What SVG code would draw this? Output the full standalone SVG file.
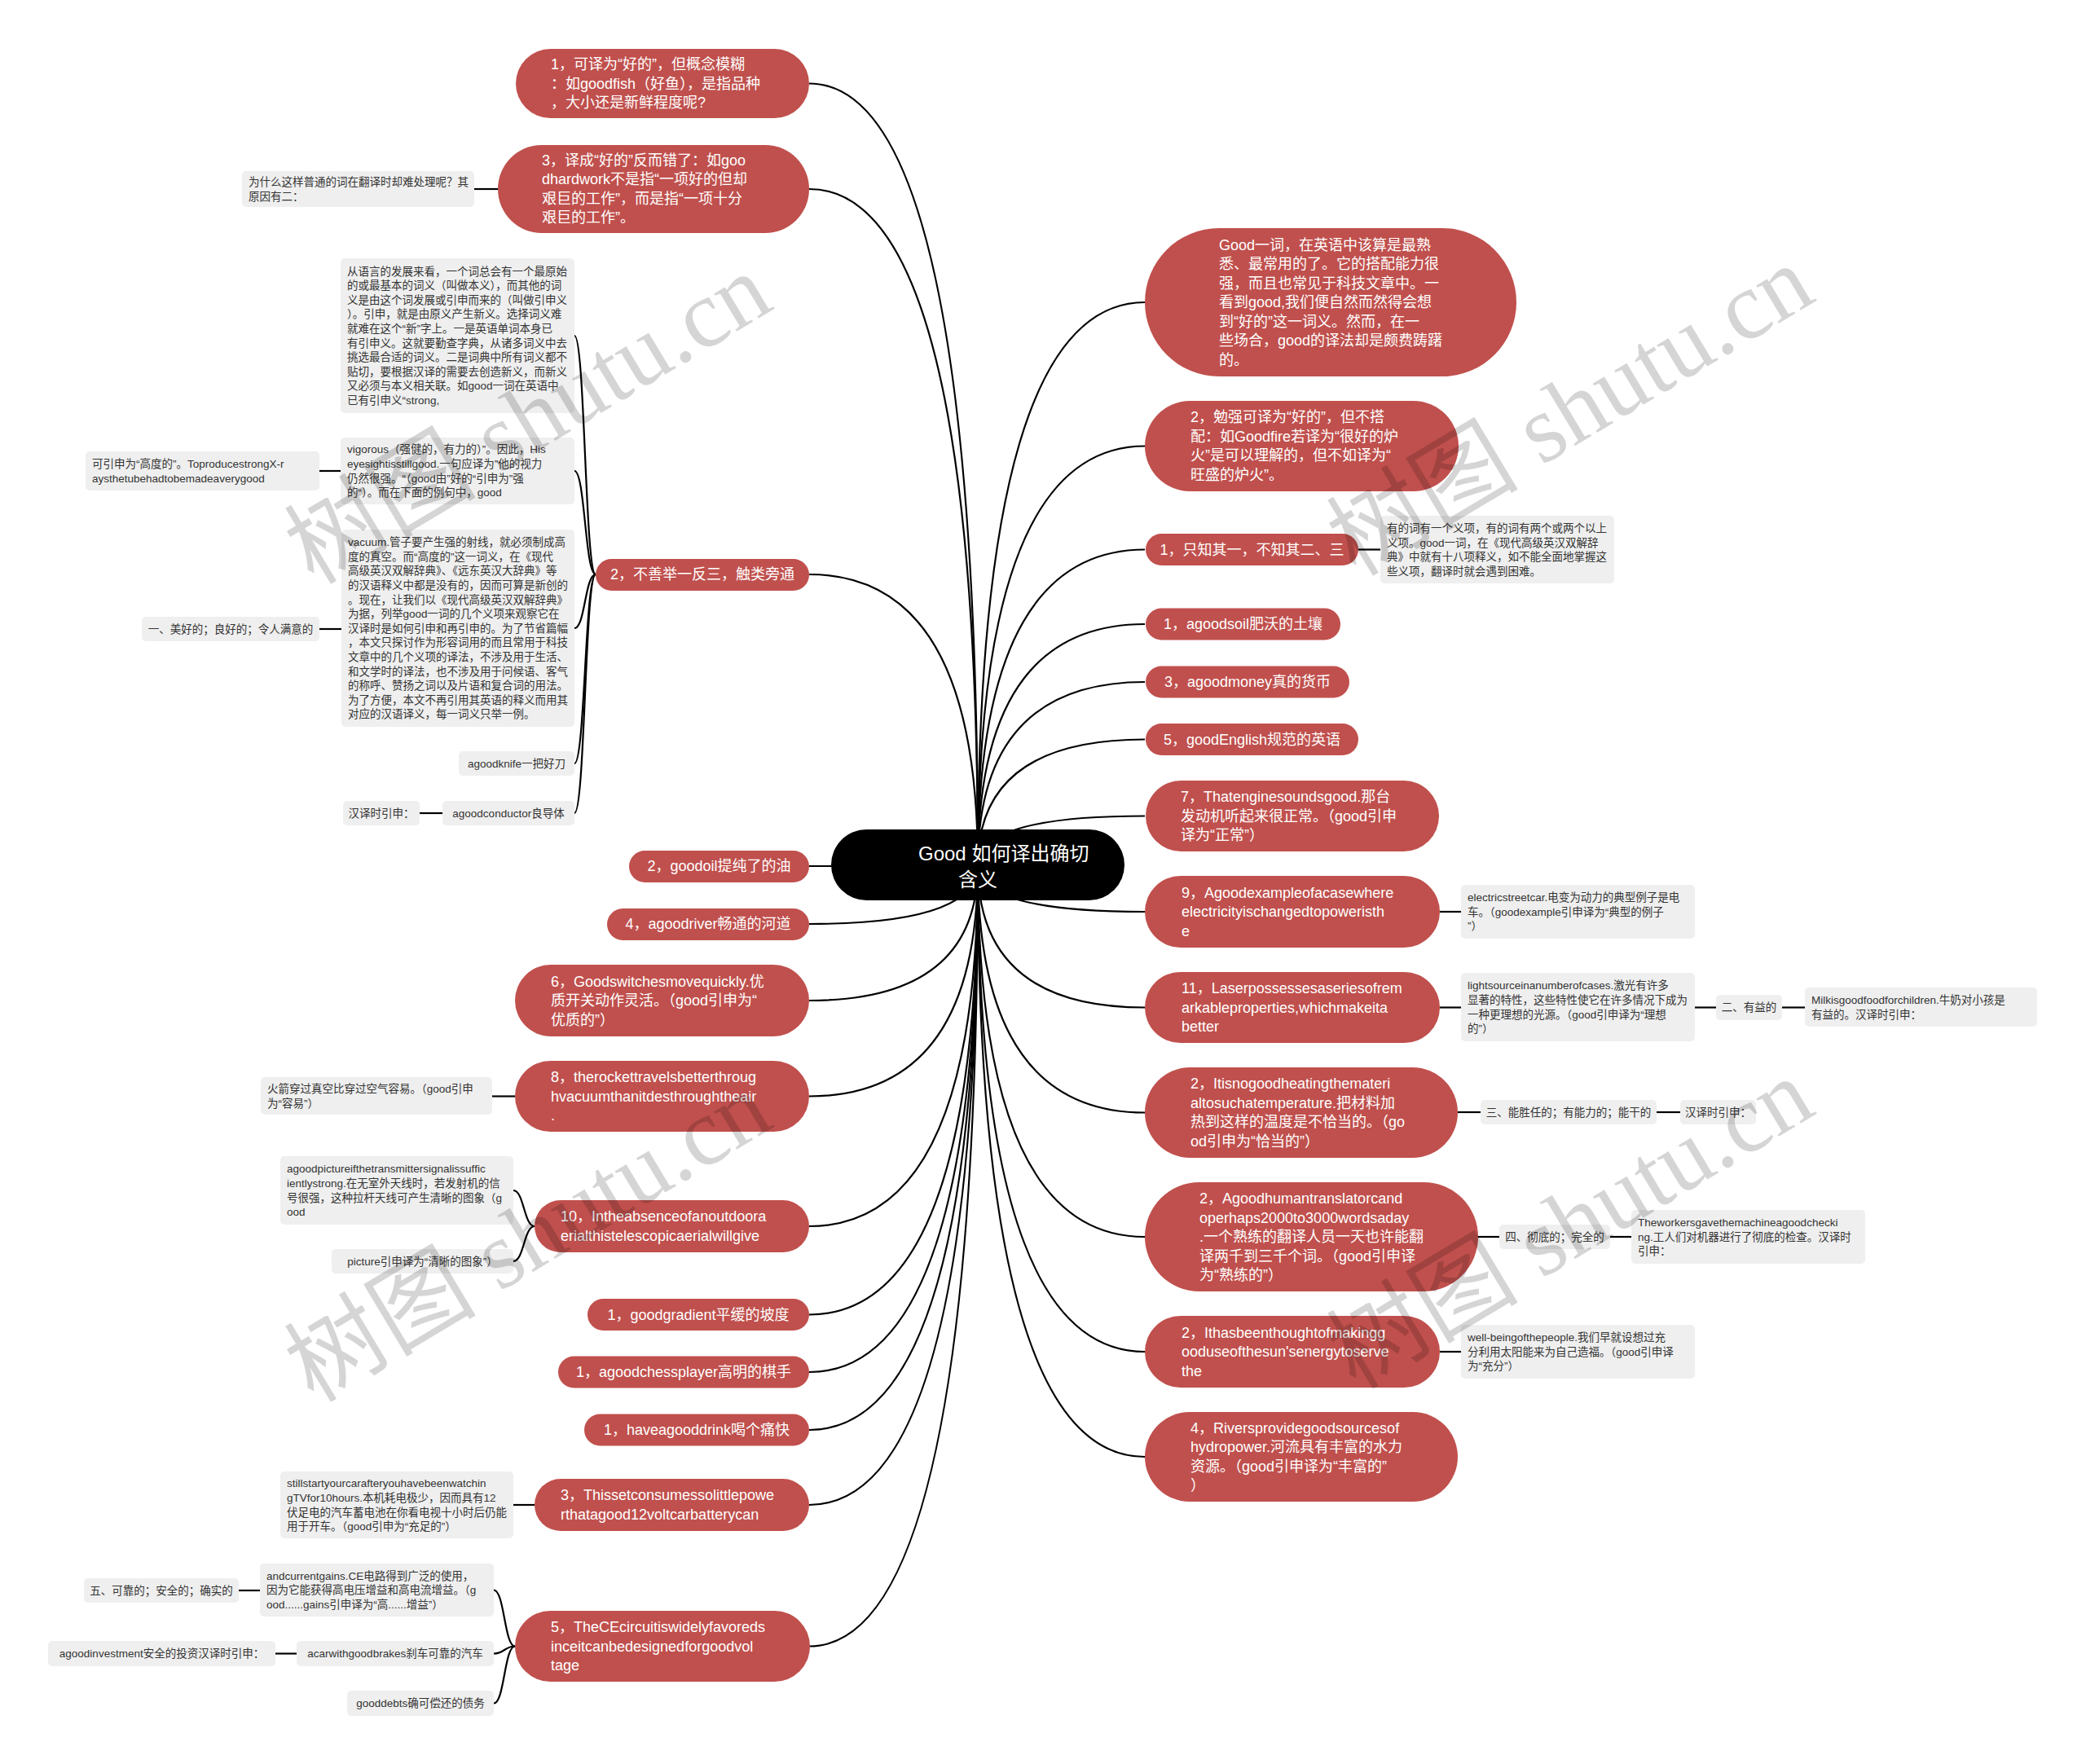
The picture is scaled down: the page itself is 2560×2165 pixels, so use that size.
<svg xmlns="http://www.w3.org/2000/svg" width="2560" height="2165" viewBox="0 0 2560 2165">
<style>
text{font-family:"Liberation Sans","Noto Sans CJK SC",sans-serif}
.rn{fill:#C0504D}
.rt{font-size:18px;fill:#fff}
.gn{fill:#EFEFEF}
.gt{font-size:13.5px;fill:#333}
.c{text-anchor:middle}
.ln{stroke:#000;stroke-width:2.2;fill:none}
.wm{font-family:"Liberation Serif","Noto Sans CJK SC",serif;font-size:118px;fill:#000;opacity:0.16;text-anchor:middle}
</style>
<rect width="2560" height="2165" fill="#fff"/>
<g id="connectors">
<path class="ln" d="M1200 1062Q1200 102.5 993 102.5"/>
<path class="ln" d="M1200 1062Q1200 232 993 232"/>
<path class="ln" d="M1200 1062Q1200 705 993 705"/>
<path class="ln" d="M1200 1062Q1200 1063 993 1063"/>
<path class="ln" d="M1200 1062Q1200 1134 993 1134"/>
<path class="ln" d="M1200 1062Q1200 1228 993 1228"/>
<path class="ln" d="M1200 1062Q1200 1345.5 993 1345.5"/>
<path class="ln" d="M1200 1062Q1200 1505 993 1505"/>
<path class="ln" d="M1200 1062Q1200 1613.5 993 1613.5"/>
<path class="ln" d="M1200 1062Q1200 1684 993 1684"/>
<path class="ln" d="M1200 1062Q1200 1755 993 1755"/>
<path class="ln" d="M1200 1062Q1200 1847 993 1847"/>
<path class="ln" d="M1200 1062Q1200 2020.5 993 2020.5"/>
<path class="ln" d="M1200 1062Q1200 371 1405 371"/>
<path class="ln" d="M1200 1062Q1200 547.5 1405 547.5"/>
<path class="ln" d="M1200 1062Q1200 674.5 1405 674.5"/>
<path class="ln" d="M1200 1062Q1200 766 1405 766"/>
<path class="ln" d="M1200 1062Q1200 837 1405 837"/>
<path class="ln" d="M1200 1062Q1200 907.5 1405 907.5"/>
<path class="ln" d="M1200 1062Q1200 1001.5 1405 1001.5"/>
<path class="ln" d="M1200 1062Q1200 1119 1405 1119"/>
<path class="ln" d="M1200 1062Q1200 1236.5 1405 1236.5"/>
<path class="ln" d="M1200 1062Q1200 1365.5 1405 1365.5"/>
<path class="ln" d="M1200 1062Q1200 1518 1405 1518"/>
<path class="ln" d="M1200 1062Q1200 1659 1405 1659"/>
<path class="ln" d="M1200 1062Q1200 1788 1405 1788"/>
<path class="ln" d="M731 705C718 705 718 412 705 412"/>
<path class="ln" d="M731 705C718 705 718 578 705 578"/>
<path class="ln" d="M731 705C718 705 718 771 705 771"/>
<path class="ln" d="M731 705C718 705 718 937 705 937"/>
<path class="ln" d="M731 705C718 705 718 998 705 998"/>
<path class="ln" d="M656 1505C643 1505 643 1461 630 1461"/>
<path class="ln" d="M656 1505C643 1505 643 1548 630 1548"/>
<path class="ln" d="M632 2020.5C619 2020.5 619 1951.5 606 1951.5"/>
<path class="ln" d="M632 2020.5C619 2020.5 619 2029.5 606 2029.5"/>
<path class="ln" d="M632 2020.5C619 2020.5 619 2090.5 606 2090.5"/>
<path class="ln" d="M582 232H611"/>
<path class="ln" d="M392 578H418"/>
<path class="ln" d="M392 772H419"/>
<path class="ln" d="M515 998H543"/>
<path class="ln" d="M604 1345.5H632"/>
<path class="ln" d="M630 1847H656"/>
<path class="ln" d="M293 1952H319"/>
<path class="ln" d="M338 2029.5H364"/>
<path class="ln" d="M1667 674.5H1694"/>
<path class="ln" d="M1767 1119H1793"/>
<path class="ln" d="M1767 1236.5H1793"/>
<path class="ln" d="M2080 1236.5H2106"/>
<path class="ln" d="M2187 1236.5H2215"/>
<path class="ln" d="M1789 1365H1817"/>
<path class="ln" d="M2033 1365H2062"/>
<path class="ln" d="M1814 1518H1840"/>
<path class="ln" d="M1976 1518H2002"/>
<path class="ln" d="M1767 1659H1793"/>
</g>
<g id="root">
<rect x="1020" y="1018" width="360" height="87" rx="43.5" fill="#000"/>
<text x="1127" y="1055.5" font-size="24" fill="#fff">Good 如何译出确切</text>
<text x="1176" y="1087.5" font-size="24" fill="#fff">含义</text>
</g>
<g id="L1"><rect class="rn" x="633" y="60" width="360" height="85" rx="42.5"/>
<text class="rt" x="676"><tspan x="676" y="85">1，可译为“好的”，但概念模糊</tspan><tspan x="676" y="108.5">：如goodfish（好鱼），是指品种</tspan><tspan x="676" y="132">，大小还是新鲜程度呢?</tspan></text></g>
<g id="L2"><rect class="rn" x="611" y="178" width="382" height="108" rx="54"/>
<text class="rt"><tspan x="665" y="203">3，译成“好的”反而错了：如goo</tspan><tspan x="665" y="226">dhardwork不是指“一项好的但却</tspan><tspan x="665" y="250">艰巨的工作”，而是指“一项十分</tspan><tspan x="665" y="273">艰巨的工作”。</tspan></text></g>
<g id="G1"><rect class="gn" x="297" y="210" width="285" height="44" rx="5"/>
<text class="gt"><tspan x="305" y="228">为什么这样普通的词在翻译时却难处理呢？其</tspan><tspan x="305" y="245.6">原因有二：</tspan></text></g>
<g id="L3"><rect class="rn" x="731" y="686" width="262" height="39" rx="19.5"/>
<text class="rt c" x="862" y="711">2，不善举一反三，触类旁通</text></g>
<g id="C1"><rect class="gn" x="418" y="317" width="287" height="190" rx="5"/>
<text class="gt"><tspan x="426" y="337.6">从语言的发展来看，一个词总会有一个最原始</tspan><tspan x="426" y="355.2">的或最基本的词义（叫做本义），而其他的词</tspan><tspan x="426" y="372.8">义是由这个词发展或引申而来的（叫做引申义</tspan><tspan x="426" y="390.4">）。引申，就是由原义产生新义。选择词义难</tspan><tspan x="426" y="408">就难在这个“新”字上。一是英语单词本身已</tspan><tspan x="426" y="425.6">有引申义。这就要勤查字典，从诸多词义中去</tspan><tspan x="426" y="443.2">挑选最合适的词义。二是词典中所有词义都不</tspan><tspan x="426" y="460.8">贴切，要根据汉译的需要去创造新义，而新义</tspan><tspan x="426" y="478.4">又必须与本义相关联。如good一词在英语中</tspan><tspan x="426" y="496">已有引申义“strong,</tspan></text></g>
<g id="C2"><rect class="gn" x="418" y="537" width="287" height="82" rx="5"/>
<text class="gt"><tspan x="426" y="556.4">vigorous（强健的，有力的）”。因此，His</tspan><tspan x="426" y="574">eyesightisstillgood.一句应译为”他的视力</tspan><tspan x="426" y="591.6">仍然很强。“（good由”好的“引申为”强</tspan><tspan x="426" y="609.2">的“）。而在下面的例句中，good</tspan></text></g>
<g id="C2a"><rect class="gn" x="105" y="554" width="287" height="48" rx="5"/>
<text class="gt"><tspan x="113" y="574">可引申为“高度的”。ToproducestrongX-r</tspan><tspan x="113" y="591.6">aysthetubehadtobemadeaverygood</tspan></text></g>
<g id="C3"><rect class="gn" x="419" y="650" width="286" height="242" rx="5"/>
<text class="gt"><tspan x="427" y="670.2">vacuum.管子要产生强的射线，就必须制成高</tspan><tspan x="427" y="687.8">度的真空。而“高度的”这一词义，在《现代</tspan><tspan x="427" y="705.4">高级英汉双解辞典》、《远东英汉大辞典》等</tspan><tspan x="427" y="723">的汉语释义中都是没有的，因而可算是新创的</tspan><tspan x="427" y="740.6">。现在，让我们以《现代高级英汉双解辞典》</tspan><tspan x="427" y="758.2">为据，列举good一词的几个义项来观察它在</tspan><tspan x="427" y="775.8">汉译时是如何引申和再引申的。为了节省篇幅</tspan><tspan x="427" y="793.4">，本文只探讨作为形容词用的而且常用于科技</tspan><tspan x="427" y="811">文章中的几个义项的译法，不涉及用于生活、</tspan><tspan x="427" y="828.6">和文学时的译法，也不涉及用于问候语、客气</tspan><tspan x="427" y="846.2">的称呼、赞扬之词以及片语和复合词的用法。</tspan><tspan x="427" y="863.8">为了方便，本文不再引用其英语的释义而用其</tspan><tspan x="427" y="881.4">对应的汉语译义，每一词义只举一例。</tspan></text></g>
<g id="C3a"><rect class="gn" x="174" y="757" width="218" height="30" rx="5"/>
<text class="gt c" x="283" y="776.8">一、美好的；良好的；令人满意的</text></g>
<g id="C4"><rect class="gn" x="563" y="922" width="142" height="30" rx="5"/>
<text class="gt c" x="634" y="941.8">agoodknife一把好刀</text></g>
<g id="C5"><rect class="gn" x="543" y="983" width="162" height="30" rx="5"/>
<text class="gt c" x="624" y="1002.8">agoodconductor良导体</text></g>
<g id="C5a"><rect class="gn" x="421" y="983" width="94" height="30" rx="5"/>
<text class="gt c" x="468" y="1002.8">汉译时引申：</text></g>
<g id="L4"><rect class="rn" x="772" y="1044" width="221" height="39" rx="19.5"/>
<text class="rt c" x="882.5" y="1069">2，goodoil提纯了的油</text></g>
<g id="L5"><rect class="rn" x="745" y="1115" width="248" height="39" rx="19.5"/>
<text class="rt c" x="869" y="1140">4，agoodriver畅通的河道</text></g>
<g id="L6"><rect class="rn" x="632" y="1184" width="361" height="88" rx="44"/>
<text class="rt"><tspan x="676" y="1210.5">6，Goodswitchesmovequickly.优</tspan><tspan x="676" y="1234">质开关动作灵活。（good引申为“</tspan><tspan x="676" y="1257.5">优质的”）</tspan></text></g>
<g id="L7"><rect class="rn" x="632" y="1302" width="361" height="87" rx="43.5"/>
<text class="rt"><tspan x="676" y="1328">8，therockettravelsbetterthroug</tspan><tspan x="676" y="1351.5">hvacuumthanitdesthroughtheair</tspan><tspan x="676" y="1375">.</tspan></text></g>
<g id="L7a"><rect class="gn" x="320" y="1322" width="284" height="46" rx="5"/>
<text class="gt"><tspan x="328" y="1341">火箭穿过真空比穿过空气容易。（good引申</tspan><tspan x="328" y="1358.6">为“容易”）</tspan></text></g>
<g id="L8"><rect class="rn" x="656" y="1473" width="337" height="64" rx="32"/>
<text class="rt"><tspan x="688" y="1499">10，Intheabsenceofanoutdoora</tspan><tspan x="688" y="1523">erialthistelescopicaerialwillgive</tspan></text></g>
<g id="L8a"><rect class="gn" x="344" y="1419" width="286" height="84" rx="5"/>
<text class="gt"><tspan x="352" y="1439.4">agoodpictureifthetransmittersignalissuffic</tspan><tspan x="352" y="1457">ientlystrong.在无室外天线时，若发射机的信</tspan><tspan x="352" y="1474.6">号很强，这种拉杆天线可产生清晰的图象（g</tspan><tspan x="352" y="1492.2">ood</tspan></text></g>
<g id="L8b"><rect class="gn" x="407" y="1533" width="223" height="30" rx="5"/>
<text class="gt c" x="518.5" y="1552.8">picture引申译为“清晰的图象”）</text></g>
<g id="L9"><rect class="rn" x="721" y="1594" width="272" height="39" rx="19.5"/>
<text class="rt c" x="857" y="1619.5">1，goodgradient平缓的坡度</text></g>
<g id="L10"><rect class="rn" x="685" y="1664.5" width="308" height="39" rx="19.5"/>
<text class="rt c" x="839" y="1690">1，agoodchessplayer高明的棋手</text></g>
<g id="L11"><rect class="rn" x="717" y="1735.5" width="276" height="39" rx="19.5"/>
<text class="rt c" x="855" y="1761">1，haveagooddrink喝个痛快</text></g>
<g id="L12"><rect class="rn" x="656" y="1815" width="337" height="64" rx="32"/>
<text class="rt"><tspan x="688" y="1841">3，Thissetconsumessolittlepowe</tspan><tspan x="688" y="1865">rthatagood12voltcarbatterycan</tspan></text></g>
<g id="L12a"><rect class="gn" x="344" y="1806" width="286" height="82" rx="5"/>
<text class="gt"><tspan x="352" y="1825.4">stillstartyourcarafteryouhavebeenwatchin</tspan><tspan x="352" y="1843">gTVfor10hours.本机耗电极少，因而具有12</tspan><tspan x="352" y="1860.6">伏足电的汽车蓄电池在你看电视十小时后仍能</tspan><tspan x="352" y="1878.2">用于开车。（good引申为“充足的”）</tspan></text></g>
<g id="L13"><rect class="rn" x="632" y="1977" width="362" height="87" rx="43.5"/>
<text class="rt"><tspan x="676" y="2003">5，TheCEcircuitiswidelyfavoreds</tspan><tspan x="676" y="2026.5">inceitcanbedesignedforgoodvol</tspan><tspan x="676" y="2050">tage</tspan></text></g>
<g id="L13a"><rect class="gn" x="319" y="1919" width="287" height="65" rx="5"/>
<text class="gt"><tspan x="327" y="1938.7">andcurrentgains.CE电路得到广泛的使用，</tspan><tspan x="327" y="1956.3">因为它能获得高电压增益和高电流增益。（g</tspan><tspan x="327" y="1973.9">ood......gains引申译为“高......增益”）</tspan></text></g>
<g id="L13a1"><rect class="gn" x="103" y="1937" width="190" height="30" rx="5"/>
<text class="gt c" x="198" y="1956.8">五、可靠的；安全的；确实的</text></g>
<g id="L13b"><rect class="gn" x="364" y="2014" width="242" height="31" rx="5"/>
<text class="gt c" x="485" y="2034.3">acarwithgoodbrakes刹车可靠的汽车</text></g>
<g id="L13b1"><rect class="gn" x="59" y="2014" width="279" height="31" rx="5"/>
<text class="gt c" x="198.5" y="2034.3">agoodinvestment安全的投资汉译时引申：</text></g>
<g id="L13c"><rect class="gn" x="426" y="2075" width="180" height="31" rx="5"/>
<text class="gt c" x="516" y="2095.3">gooddebts确可偿还的债务</text></g>
<g id="R1"><rect class="rn" x="1405" y="280" width="456" height="182" rx="91"/>
<text class="rt"><tspan x="1496" y="306.5">Good一词，在英语中该算是最熟</tspan><tspan x="1496" y="330">悉、最常用的了。它的搭配能力很</tspan><tspan x="1496" y="353.5">强，而且也常见于科技文章中。一</tspan><tspan x="1496" y="377">看到good,我们便自然而然得会想</tspan><tspan x="1496" y="400.5">到“好的”这一词义。然而，在一</tspan><tspan x="1496" y="424">些场合，good的译法却是颇费踌躇</tspan><tspan x="1496" y="447.5">的。</tspan></text></g>
<g id="R2"><rect class="rn" x="1405" y="492" width="385" height="111" rx="55.5"/>
<text class="rt"><tspan x="1461" y="518">2，勉强可译为“好的”，但不搭</tspan><tspan x="1461" y="542">配：如Goodfire若译为“很好的炉</tspan><tspan x="1461" y="565">火”是可以理解的，但不如译为“</tspan><tspan x="1461" y="589">旺盛的炉火”。</tspan></text></g>
<g id="R3"><rect class="rn" x="1406" y="655" width="261" height="39" rx="19.5"/>
<text class="rt c" x="1536.5" y="680.5">1，只知其一，不知其二、三</text></g>
<g id="R3a"><rect class="gn" x="1694" y="633" width="287" height="83" rx="5"/>
<text class="gt"><tspan x="1702" y="652.9">有的词有一个义项，有的词有两个或两个以上</tspan><tspan x="1702" y="670.5">义项。good一词，在《现代高级英汉双解辞</tspan><tspan x="1702" y="688.1">典》中就有十八项释义，如不能全面地掌握这</tspan><tspan x="1702" y="705.7">些义项，翻译时就会遇到困难。</tspan></text></g>
<g id="R4"><rect class="rn" x="1406" y="746.5" width="239" height="39" rx="19.5"/>
<text class="rt c" x="1525.5" y="772">1，agoodsoil肥沃的土壤</text></g>
<g id="R5"><rect class="rn" x="1406" y="817.5" width="250" height="39" rx="19.5"/>
<text class="rt c" x="1531" y="843">3，agoodmoney真的货币</text></g>
<g id="R6"><rect class="rn" x="1406" y="888" width="261" height="39" rx="19.5"/>
<text class="rt c" x="1536.5" y="913.5">5，goodEnglish规范的英语</text></g>
<g id="R7"><rect class="rn" x="1406" y="958" width="360" height="87" rx="43.5"/>
<text class="rt"><tspan x="1449" y="984">7，Thatenginesoundsgood.那台</tspan><tspan x="1449" y="1007.5">发动机听起来很正常。（good引申</tspan><tspan x="1449" y="1031">译为“正常”）</tspan></text></g>
<g id="R8"><rect class="rn" x="1405" y="1075" width="362" height="88" rx="44"/>
<text class="rt"><tspan x="1450" y="1101.5">9，Agoodexampleofacasewhere</tspan><tspan x="1450" y="1125">electricityischangedtopoweristh</tspan><tspan x="1450" y="1148.5">e</tspan></text></g>
<g id="R8a"><rect class="gn" x="1793" y="1086" width="287" height="66" rx="5"/>
<text class="gt"><tspan x="1801" y="1106.2">electricstreetcar.电变为动力的典型例子是电</tspan><tspan x="1801" y="1123.8">车。（goodexample引申译为“典型的例子</tspan><tspan x="1801" y="1141.4">”）</tspan></text></g>
<g id="R9"><rect class="rn" x="1405" y="1193" width="362" height="87" rx="43.5"/>
<text class="rt"><tspan x="1450" y="1219">11，Laserpossessesaseriesofrem</tspan><tspan x="1450" y="1242.5">arkableproperties,whichmakeita</tspan><tspan x="1450" y="1266">better</tspan></text></g>
<g id="R9a"><rect class="gn" x="1793" y="1194" width="287" height="84" rx="5"/>
<text class="gt"><tspan x="1801" y="1214.4">lightsourceinanumberofcases.激光有许多</tspan><tspan x="1801" y="1232">显著的特性，这些特性使它在许多情况下成为</tspan><tspan x="1801" y="1249.6">一种更理想的光源。（good引申译为“理想</tspan><tspan x="1801" y="1267.2">的”）</tspan></text></g>
<g id="R9b"><rect class="gn" x="2106" y="1221" width="81" height="31" rx="5"/>
<text class="gt c" x="2146.5" y="1241.3">二、有益的</text></g>
<g id="R9c"><rect class="gn" x="2215" y="1212" width="285" height="48" rx="5"/>
<text class="gt"><tspan x="2223" y="1232">Milkisgoodfoodforchildren.牛奶对小孩是</tspan><tspan x="2223" y="1249.6">有益的。汉译时引申：</tspan></text></g>
<g id="R10"><rect class="rn" x="1405" y="1310" width="384" height="111" rx="55.5"/>
<text class="rt"><tspan x="1461" y="1336">2，Itisnogoodheatingthemateri</tspan><tspan x="1461" y="1360">altosuchatemperature.把材料加</tspan><tspan x="1461" y="1383">热到这样的温度是不恰当的。（go</tspan><tspan x="1461" y="1407">od引申为“恰当的”）</tspan></text></g>
<g id="R10a"><rect class="gn" x="1817" y="1350" width="216" height="30" rx="5"/>
<text class="gt c" x="1925" y="1369.8">三、能胜任的；有能力的；能干的</text></g>
<g id="R10b"><rect class="gn" x="2062" y="1350" width="93" height="30" rx="5"/>
<text class="gt c" x="2108.5" y="1369.8">汉译时引申：</text></g>
<g id="R11"><rect class="rn" x="1405" y="1451" width="409" height="134" rx="67"/>
<text class="rt"><tspan x="1472" y="1477">2，Agoodhumantranslatorcand</tspan><tspan x="1472" y="1500.5">operhaps2000to3000wordsaday</tspan><tspan x="1472" y="1524">.一个熟练的翻译人员一天也许能翻</tspan><tspan x="1472" y="1547.5">译两千到三千个词。（good引申译</tspan><tspan x="1472" y="1571">为“熟练的”）</tspan></text></g>
<g id="R11a"><rect class="gn" x="1840" y="1503" width="136" height="30" rx="5"/>
<text class="gt c" x="1908" y="1522.8">四、彻底的；完全的</text></g>
<g id="R11b"><rect class="gn" x="2002" y="1485" width="287" height="66" rx="5"/>
<text class="gt"><tspan x="2010" y="1505.2">Theworkersgavethemachineagoodchecki</tspan><tspan x="2010" y="1522.8">ng.工人们对机器进行了彻底的检查。汉译时</tspan><tspan x="2010" y="1540.4">引申：</tspan></text></g>
<g id="R12"><rect class="rn" x="1405" y="1615" width="362" height="88" rx="44"/>
<text class="rt"><tspan x="1450" y="1641.5">2，Ithasbeenthoughtofmakingg</tspan><tspan x="1450" y="1665">ooduseofthesun'senergytoserve</tspan><tspan x="1450" y="1688.5">the</tspan></text></g>
<g id="R12a"><rect class="gn" x="1793" y="1626" width="287" height="66" rx="5"/>
<text class="gt"><tspan x="1801" y="1646.2">well-beingofthepeople.我们早就设想过充</tspan><tspan x="1801" y="1663.8">分利用太阳能来为自己造福。（good引申译</tspan><tspan x="1801" y="1681.4">为“充分”）</tspan></text></g>
<g id="R13"><rect class="rn" x="1405" y="1733" width="384" height="110" rx="55"/>
<text class="rt"><tspan x="1461" y="1759">4，Riversprovidegoodsourcesof</tspan><tspan x="1461" y="1782">hydropower.河流具有丰富的水力</tspan><tspan x="1461" y="1806">资源。（good引申译为“丰富的”</tspan><tspan x="1461" y="1829">）</tspan></text></g>
<g id="watermarks">
<text class="wm" transform="translate(648 514) rotate(-31)" y="40">树图 shutu.cn</text>
<text class="wm" transform="translate(1927 504) rotate(-31)" y="40">树图 shutu.cn</text>
<text class="wm" transform="translate(648 1518) rotate(-31)" y="40">树图 shutu.cn</text>
<text class="wm" transform="translate(1927 1502) rotate(-31)" y="40">树图 shutu.cn</text>
</g>
</svg>
